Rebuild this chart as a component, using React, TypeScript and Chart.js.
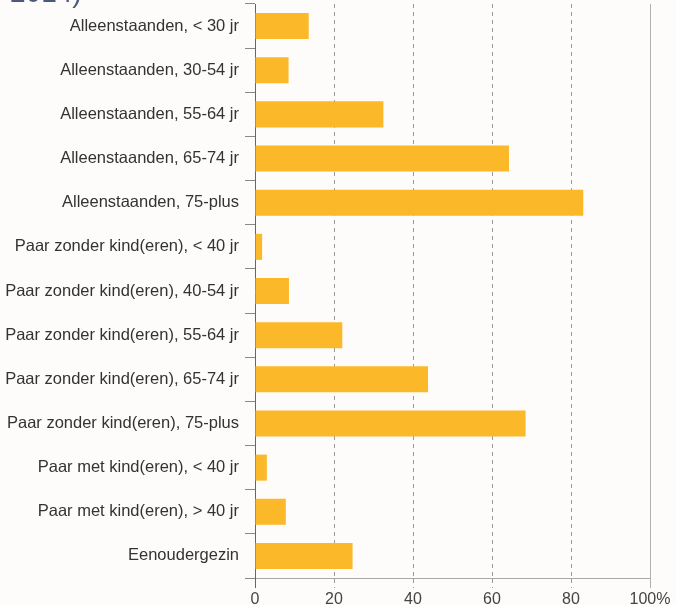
import React, { useEffect, useRef } from "react";
import { Chart, registerables } from "chart.js";

Chart.register(...registerables);

const categories = [
  "Alleenstaanden, < 30 jr",
  "Alleenstaanden, 30-54 jr",
  "Alleenstaanden, 55-64 jr",
  "Alleenstaanden, 65-74 jr",
  "Alleenstaanden, 75-plus",
  "Paar zonder kind(eren), < 40 jr",
  "Paar zonder kind(eren), 40-54 jr",
  "Paar zonder kind(eren), 55-64 jr",
  "Paar zonder kind(eren), 65-74 jr",
  "Paar zonder kind(eren), 75-plus",
  "Paar met kind(eren), < 40 jr",
  "Paar met kind(eren), > 40 jr",
  "Eenoudergezin",
];

const values = [13.6, 8.5, 32.5, 64.3, 83.1, 1.8, 8.6, 22.1, 43.8, 68.5, 3.0, 7.8, 24.7];

const xTickValues = [0, 20, 40, 60, 80, 100];
const titleText = "2014)";

const FONT = "'Liberation Sans', Arial, sans-serif";

const edgeLines = {
  id: "edgeLines",
  afterDraw(chart: any) {
    const { ctx, chartArea, scales } = chart;
    const x = scales.x;
    ctx.save();
    ctx.lineWidth = 1;
    const x100 = Math.round(x.getPixelForValue(100)) + 0.5;
    ctx.strokeStyle = "#b0b0b0";
    ctx.beginPath();
    ctx.moveTo(x100, chartArea.top);
    ctx.lineTo(x100, chartArea.bottom + 10);
    ctx.stroke();
    ctx.restore();
  },
};

export default function App() {
  const ref = useRef<HTMLCanvasElement>(null);

  useEffect(() => {
    if (!ref.current) return;
    const chart = new Chart(ref.current, {
      type: "bar",
      data: {
        labels: categories,
        datasets: [
          {
            data: values,
            backgroundColor: "#FBB829",
            borderWidth: 0,
            barPercentage: 0.59,
            categoryPercentage: 1,
          },
        ],
      },
      plugins: [edgeLines],
      options: {
        indexAxis: "y",
        responsive: false,
        animation: false,
        layout: { padding: { top: 4, right: 26, left: 0, bottom: 0 } },
        plugins: {
          legend: { display: false },
          tooltip: { enabled: false },
          title: { display: false },
        },
        scales: {
          x: {
            type: "linear",
            min: 0,
            max: 100,
            afterBuildTicks: (scale: any) => {
              scale.ticks = xTickValues.map((v) => ({ value: v }));
            },
            afterFit: (scale: any) => {
              scale.height = 27;
            },
            ticks: {
              callback: (v: any) => (v === 100 ? "100%" : String(v)),
              font: { family: FONT, size: 16 },
              color: "#444",
              padding: 2,
              maxRotation: 0,
            },
            grid: {
              color: (ctx: any) =>
                ctx.tick && (ctx.tick.value === 0 || ctx.tick.value === 100)
                  ? "rgba(0,0,0,0)"
                  : "#9a9a9a",
              lineWidth: 1,
              tickLength: 10,
              tickColor: (ctx: any) =>
                ctx.tick && ctx.tick.value === 0
                  ? "#666"
                  : ctx.tick && ctx.tick.value === 100
                  ? "#b0b0b0"
                  : "#9a9a9a",
              tickBorderDash: (ctx: any) =>
                ctx.tick && (ctx.tick.value === 0 || ctx.tick.value === 100) ? [] : [4, 4],
            },
            border: { display: true, color: "#a8a8a8", width: 1, dash: [4, 4] },
          },
          y: {
            type: "category",
            afterFit: (scale: any) => {
              scale.width = 255;
              scale.paddingTop = 0;
              scale.paddingBottom = 0;
            },
            ticks: {
              font: { family: FONT, size: 16.5 },
              color: "#333",
              padding: 6,
            },
            grid: {
              offset: true,
              drawOnChartArea: false,
              tickLength: 10,
              color: "#888",
              tickColor: "#888",
            },
            border: { display: true, color: "#666", width: 1 },
          },
        },
      } as any,
    });
    return () => chart.destroy();
  }, []);

  return (
    <div
      style={{
        position: "fixed",
        left: 0,
        top: 0,
        width: 676,
        height: 605,
        overflow: "hidden",
        background: "#fdfcfa",
      }}
    >
      <div
        style={{
          position: "absolute",
          left: 10,
          top: -23,
          fontFamily: FONT,
          fontSize: 28,
          lineHeight: "32px",
          color: "#4a5a78",
        }}
      >
        {titleText}
      </div>
      <canvas ref={ref} width={676} height={605} style={{ display: "block" }} />
    </div>
  );
}
